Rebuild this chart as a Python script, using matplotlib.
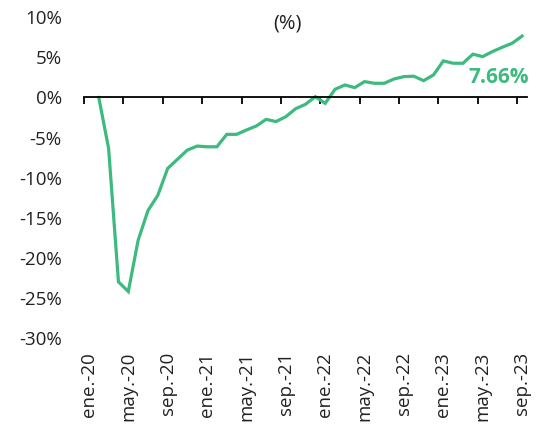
import matplotlib
matplotlib.use("Agg")
import matplotlib.pyplot as plt
import numpy as np

#-------------------------------#
# Data (ene-20 .. sep-23, monthly)
#-------------------------------#
month_abbr = ["ene.", "feb.", "mar.", "abr.", "may.", "jun.",
              "jul.", "ago.", "sep.", "oct.", "nov.", "dic."]
years = ["20", "21", "22", "23"]
months = [f"{m}-{y}" for y in years for m in month_abbr][:45]

# cumulative change (%); first month has no value
values = [np.nan, 0.0, -6.35, -23.0, -24.2, -17.8, -14.1, -12.2, -8.85, -7.7,
          -6.56, -6.06, -6.15, -6.15, -4.6, -4.6, -4.06, -3.56, -2.73, -3.0,
          -2.4, -1.4, -0.85, 0.1, -0.73, 1.02, 1.56, 1.23, 1.98, 1.77,
          1.77, 2.31, 2.6, 2.65, 2.1, 2.81, 4.56, 4.27, 4.27, 5.4,
          5.1, 5.73, 6.27, 6.77, 7.66]

y_ticks = [10, 5, 0, -5, -10, -15, -20, -25, -30]
label_step = 4
last_label = "7.66%"

#-------------------------------#
# Style
#-------------------------------#
plt.rcParams["font.family"] = ["Open Sans", "DejaVu Sans"]
green = "#3dba7f"
font_size = 13.5

W, H = 539, 425
fig = plt.figure(figsize=(W / 100, H / 100), dpi=100)
ax = fig.add_axes([84 / W, 1 - 338 / H, (527 - 84) / W, (338 - 17.3) / H])

x = np.arange(len(months))
ax.plot(x, values, color=green, lw=2.3, solid_joinstyle="miter")

ax.set_xlim(-0.5, len(months) - 0.5)
ax.set_ylim(-30, 10)

# y axis: labels only
ax.set_yticks(y_ticks)
ax.set_yticklabels([f"{v}%" for v in y_ticks], fontsize=font_size, color="#222222")
ax.tick_params(axis="y", length=0, pad=16)

# x axis line sits at zero, ticks between category groups
for side in ["left", "right", "top"]:
    ax.spines[side].set_visible(False)
ax.spines["bottom"].set_position(("data", 0))
ax.spines["bottom"].set_linewidth(1.3)
ax.set_xticks(np.arange(-0.5, len(months) - 1, label_step))
ax.set_xticklabels([])
ax.tick_params(axis="x", direction="out", length=5, width=1.3, color="black")

# category labels at the bottom of the plot area
sec = ax.secondary_xaxis("bottom")
sec.set_xticks(x[::label_step])
sec.set_xticklabels(months[::label_step], rotation=90, fontsize=font_size,
                    color="#222222", va="top", ha="center")
sec.tick_params(length=0, pad=10)
sec.spines["bottom"].set_visible(False)

# last value annotation
ax.annotate(last_label, xy=(x[-1], values[-1]), xytext=(5, -30),
            textcoords="offset points", ha="right", va="center",
            fontsize=15, fontweight="bold", color=green)

fig.text(288 / W, 1 - 24 / H, "(%)", ha="center", va="center",
         fontsize=14.5, color="#222222")

fig.savefig("out.png", dpi=100)
